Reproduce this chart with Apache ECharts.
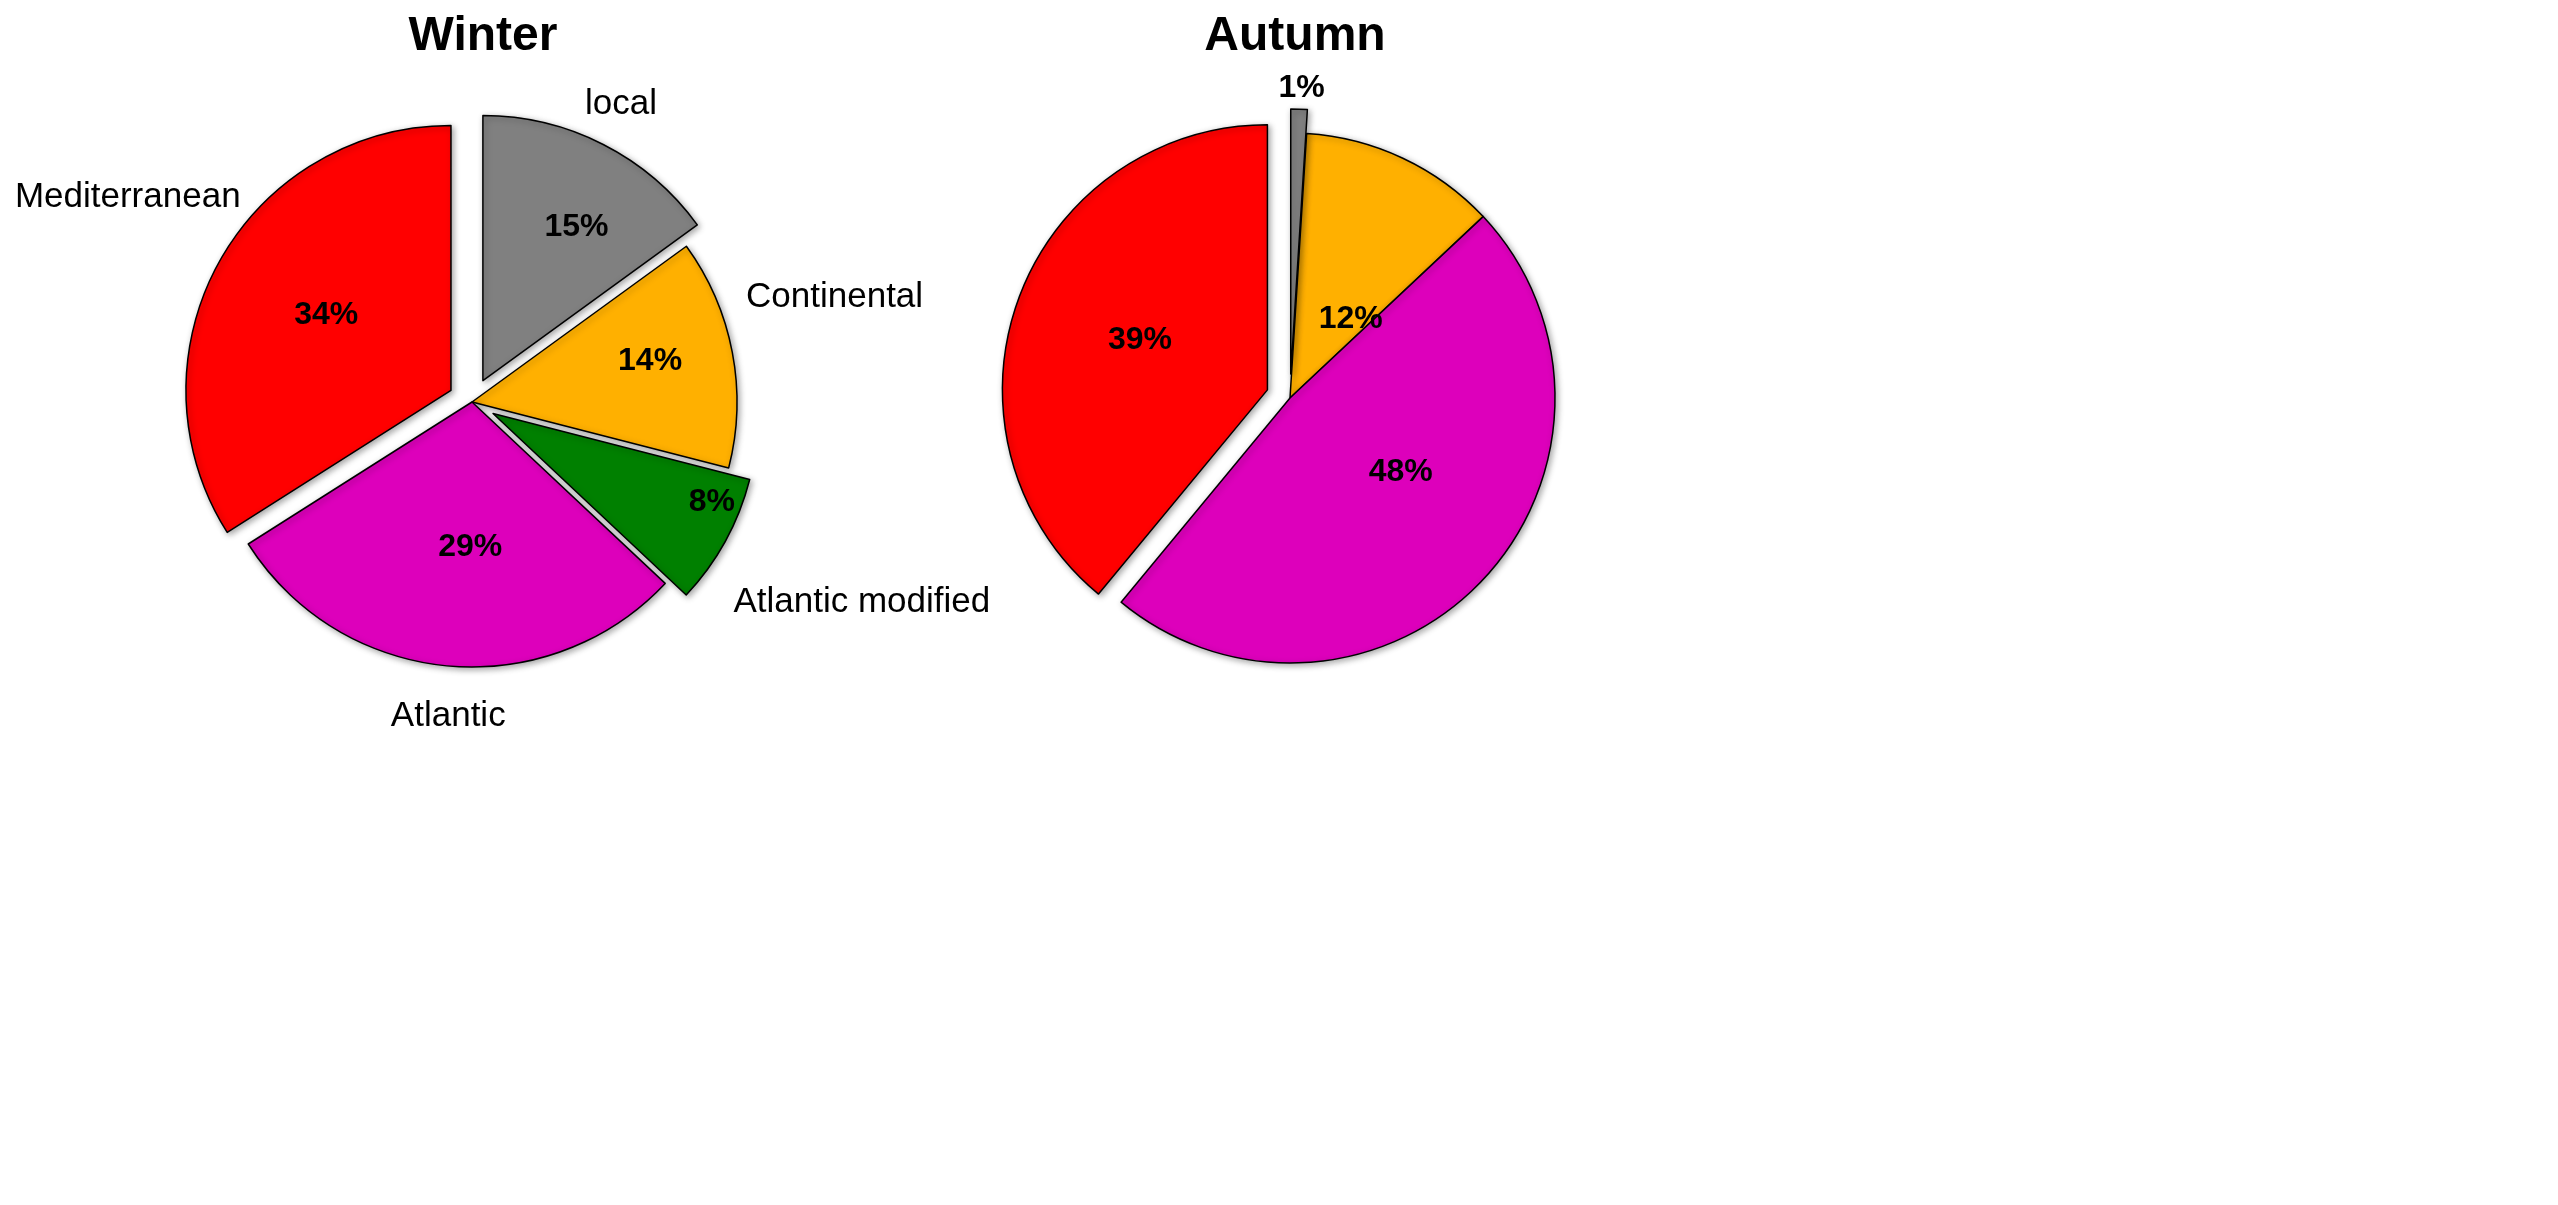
<!DOCTYPE html>
<html>
<head>
<meta charset="utf-8">
<script src="https://cdn.jsdelivr.net/npm/echarts@6/dist/echarts.min.js"></script>
<style>html,body{margin:0;background:#fff}#myChart{width:2558px;height:1205px}</style>
</head>
<body>
<div id="myChart"></div>
<script>
const categories = ["local", "Continental", "Atlantic modified", "Atlantic", "Mediterranean"];
const colors = ["#808080", "#FFB000", "#008000", "#DD00BB", "#FF0000"];
const winterValues = [15, 14, 8, 29, 34];
const winterExploded = [true, false, true, false, true];
const autumnCategories = ["local", "Continental", "Atlantic", "Mediterranean"];
const autumnColors = ["#808080", "#FFB000", "#DD00BB", "#FF0000"];
const autumnValues = [1, 12, 48, 39];
const autumnExploded = [true, false, false, true];

// label nudges (dx, dy)
const winterPctShift = [[32, -33], [45, -15], [100, 23], [11, 10], [-6, -10]];
const winterNameShift = [[-60, -27], [-36, -52], [-40, 54], [95, 36], [70, -58]];
const autumnPctShift = [[-56, -6], [3, 44], [12, -19], [0, -4]];

const font = "Liberation Sans, Arial, sans-serif";

function shifter(shift) {
  return function (p) {
    const s = shift[p.dataIndex] || [0, 0];
    return { dx: s[0], dy: s[1] };
  };
}

function pieSeries(center, names, vals, cols, expl, nameShift, pctShift, outsidePctIdx) {
  const base = {
    type: "pie", center: center, radius: [0, 265], startAngle: 90, clockwise: true,
    selectedMode: "multiple", selectedOffset: 24, animation: false, avoidLabelOverlap: false
  };
  const s1 = Object.assign({}, base, {
    itemStyle: { borderColor: "#000", borderWidth: 1.5, shadowBlur: 6, shadowColor: "rgba(0,0,0,0.35)", shadowOffsetX: 2, shadowOffsetY: 2 },
    label: { position: "inside", formatter: "{c}%", fontFamily: font, fontWeight: "bold", fontSize: 32, color: "#000" },
    labelLine: { show: false },
    labelLayout: shifter(pctShift),
    data: names.map((n, i) => {
      const d = { name: n, value: vals[i], selected: expl[i], itemStyle: { color: cols[i] } };
      if (i === outsidePctIdx) d.label = { position: "outside", distance: 12 };
      return d;
    })
  });
  const series = [s1];
  if (nameShift) {
    series.push(Object.assign({}, base, {
      silent: true,
      itemStyle: { color: "transparent", borderWidth: 0 },
      label: { position: "outside", formatter: "{b}", fontFamily: font, fontSize: 35, color: "#000", distance: 40 },
      labelLine: { show: false },
      labelLayout: shifter(nameShift),
      data: names.map((n, i) => ({ name: n, value: vals[i], selected: expl[i] }))
    }));
  }
  return series;
}

const chart = echarts.init(document.getElementById("myChart"));
chart.setOption({
  backgroundColor: "#fff",
  title: [
    { text: "Winter", left: 478, top: 8, textAlign: "center", textStyle: { fontFamily: font, fontWeight: "bold", fontSize: 48, color: "#000" } },
    { text: "Autumn", left: 1290, top: 8, textAlign: "center", textStyle: { fontFamily: font, fontWeight: "bold", fontSize: 48, color: "#000" } }
  ],
  series: [
    ...pieSeries([472, 402], categories, winterValues, colors, winterExploded, winterNameShift, winterPctShift, -1),
    ...pieSeries([1290, 398], autumnCategories, autumnValues, autumnColors, autumnExploded, null, autumnPctShift, 0)
  ]
});
</script>
</body>
</html>
